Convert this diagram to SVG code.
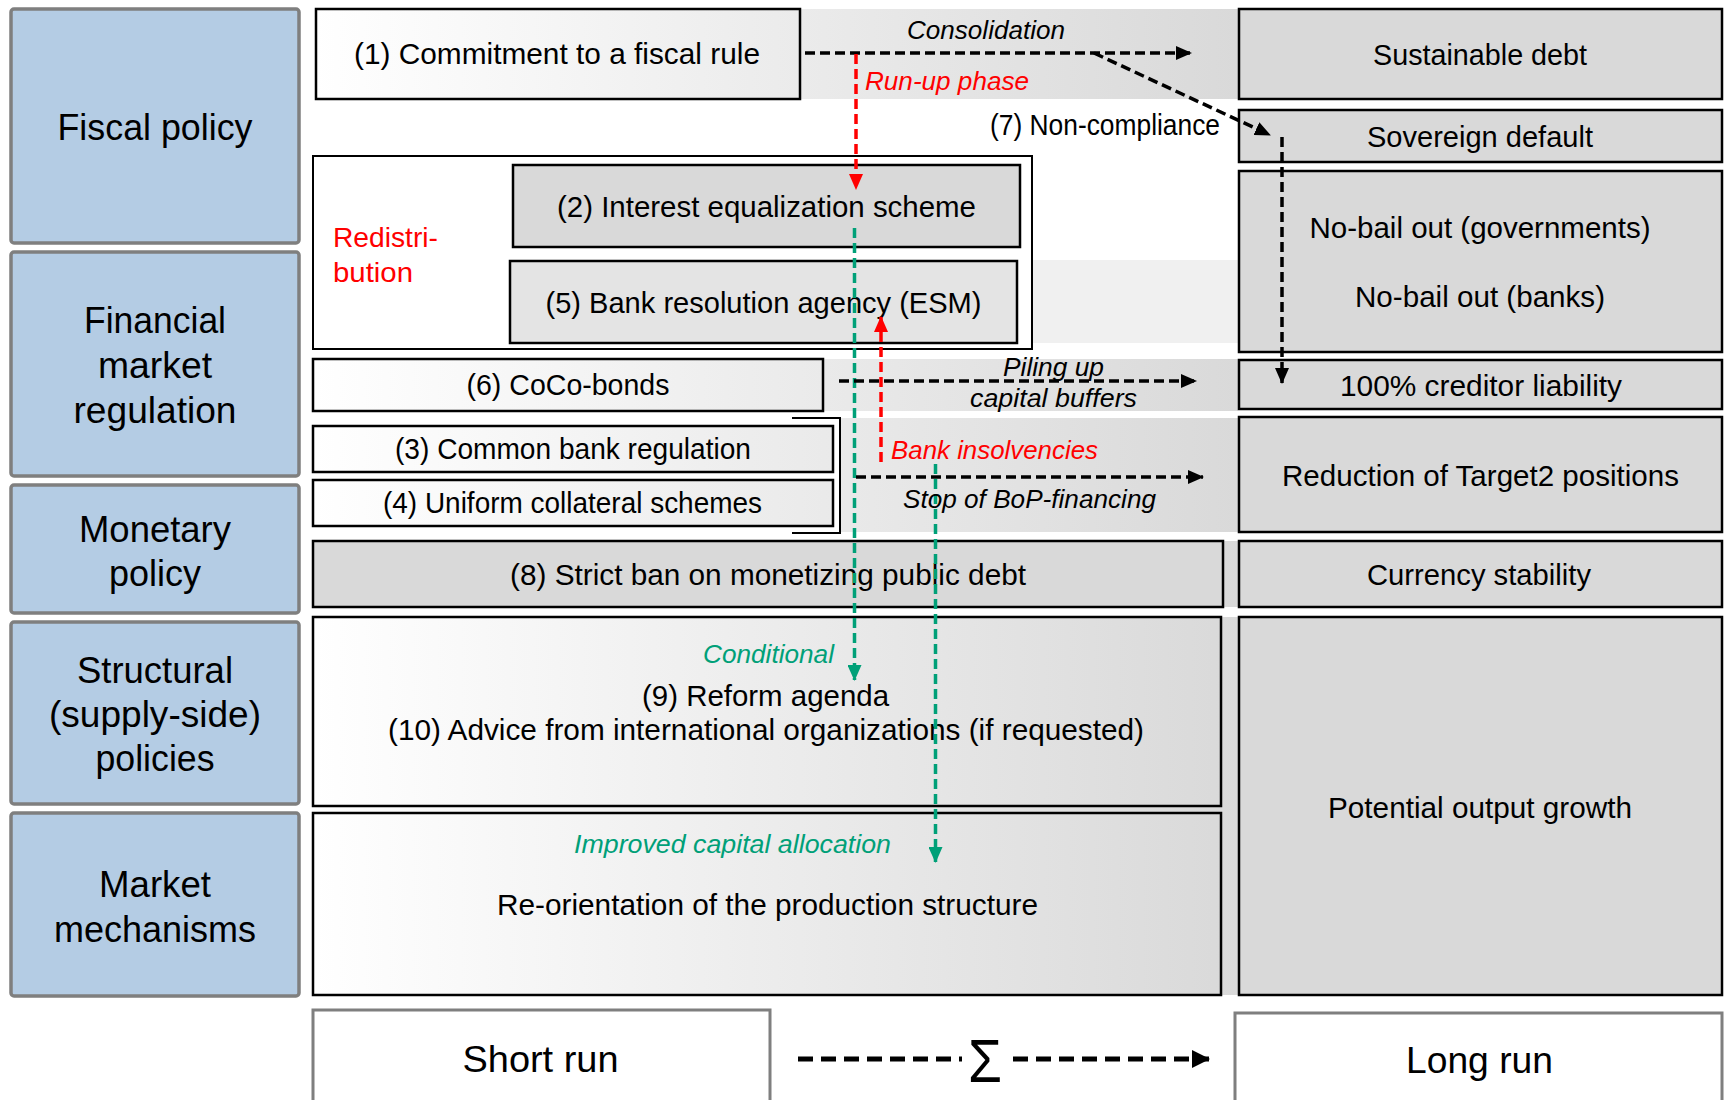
<svg xmlns="http://www.w3.org/2000/svg" width="1725" height="1100" viewBox="0 0 1725 1100">
<defs>
  <linearGradient id="band" gradientUnits="userSpaceOnUse" x1="313" y1="0" x2="1238" y2="0">
    <stop offset="0" stop-color="#ffffff"/>
    <stop offset="1" stop-color="#d9d9d9"/>
  </linearGradient>
  <marker id="ahK" markerUnits="userSpaceOnUse" markerWidth="16" markerHeight="14" refX="15" refY="7" orient="auto">
    <path d="M0,0 L16,7 L0,14 Z" fill="#000000"/>
  </marker>
  <marker id="ahR" markerUnits="userSpaceOnUse" markerWidth="16" markerHeight="14" refX="15" refY="7" orient="auto">
    <path d="M0,0 L16,7 L0,14 Z" fill="#ff0000"/>
  </marker>
  <marker id="ahG" markerUnits="userSpaceOnUse" markerWidth="16" markerHeight="14" refX="15" refY="7" orient="auto">
    <path d="M0,0 L16,7 L0,14 Z" fill="#00a078"/>
  </marker>
  <marker id="ahBig" markerUnits="userSpaceOnUse" markerWidth="18" markerHeight="18" refX="17" refY="9" orient="auto">
    <path d="M0,0 L18,9 L0,18 Z" fill="#000000"/>
  </marker>
</defs>
<style>
  text { font-family: 'Liberation Sans', Arial, sans-serif; fill: #000000; }
  .cat { fill: #b4cce4; stroke: #7f7f7f; stroke-width: 3.5; }
  .catT { font-size: 36px; text-anchor: middle; }
  .box { stroke: #000000; stroke-width: 2.5; }
  .gray { fill: #d9d9d9; }
  .grad { fill: url(#band); }
  .bt { font-size: 29px; text-anchor: middle; }
  .lab { font-size: 26px; font-style: italic; text-anchor: middle; }
  .red { fill: #ff0000; }
  .grn { fill: #00a078; }
  .dk { fill: none; stroke: #000000; stroke-width: 3.5; stroke-dasharray: 10 5; }
  .dr { fill: none; stroke: #ff0000; stroke-width: 3.5; stroke-dasharray: 10 5; }
  .dg { fill: none; stroke: #00a078; stroke-width: 3.5; stroke-dasharray: 10 5; }
  .run { fill: #ffffff; stroke: #7f7f7f; stroke-width: 3; }
  .runT { font-size: 37px; text-anchor: middle; }
</style>

<rect x="0" y="0" width="1725" height="1100" fill="#ffffff"/>

<!-- background row bands -->
<g id="bands">
  <rect x="313" y="9" width="925" height="90" class="grad"/>
  <rect x="1032" y="260" width="206" height="83" fill="#f0f0f0"/>
  <rect x="313" y="359" width="925" height="52" class="grad"/>
  <rect x="840" y="418" width="398" height="114" class="grad"/>
  <rect x="313" y="541" width="925" height="66" class="grad"/>
  <rect x="313" y="617" width="925" height="378" class="grad"/>
</g>

<!-- category column -->
<g id="cat-fiscal">
  <rect x="11" y="9" width="288" height="234" rx="3" class="cat"/>
  <text x="155" y="140" class="catT" textLength="195" lengthAdjust="spacingAndGlyphs">Fiscal policy</text>
</g>
<g id="cat-financial">
  <rect x="11" y="252" width="288" height="224" rx="3" class="cat"/>
  <text x="155" y="333" class="catT" textLength="142" lengthAdjust="spacingAndGlyphs">Financial</text>
  <text x="155" y="378" class="catT" textLength="114" lengthAdjust="spacingAndGlyphs">market</text>
  <text x="155" y="423" class="catT" textLength="163" lengthAdjust="spacingAndGlyphs">regulation</text>
</g>
<g id="cat-monetary">
  <rect x="11" y="485" width="288" height="128" rx="3" class="cat"/>
  <text x="155" y="542" class="catT" textLength="152" lengthAdjust="spacingAndGlyphs">Monetary</text>
  <text x="155" y="586" class="catT" textLength="92" lengthAdjust="spacingAndGlyphs">policy</text>
</g>
<g id="cat-structural">
  <rect x="11" y="622" width="288" height="182" rx="3" class="cat"/>
  <text x="155" y="683" class="catT" textLength="156" lengthAdjust="spacingAndGlyphs">Structural</text>
  <text x="155" y="727" class="catT" textLength="212" lengthAdjust="spacingAndGlyphs">(supply-side)</text>
  <text x="155" y="771" class="catT" textLength="119" lengthAdjust="spacingAndGlyphs">policies</text>
</g>
<g id="cat-market">
  <rect x="11" y="813" width="288" height="183" rx="3" class="cat"/>
  <text x="155" y="897" class="catT" textLength="112" lengthAdjust="spacingAndGlyphs">Market</text>
  <text x="155" y="942" class="catT" textLength="202" lengthAdjust="spacingAndGlyphs">mechanisms</text>
</g>

<!-- short-run column -->
<g id="n1">
  <rect x="316" y="9" width="484" height="90" fill="none" class="box"/>
  <text x="557" y="64" class="bt" textLength="406" lengthAdjust="spacingAndGlyphs">(1) Commitment to a fiscal rule</text>
</g>
<g id="redistribution">
  <rect x="313" y="156" width="719" height="193" fill="#ffffff" stroke="#000000" stroke-width="2"/>
  <text x="333" y="247" font-size="28" class="red" textLength="105" lengthAdjust="spacingAndGlyphs">Redistri-</text>
  <text x="333" y="282" font-size="28" class="red" textLength="80" lengthAdjust="spacingAndGlyphs">bution</text>
</g>
<g id="n2">
  <rect x="513" y="165" width="507" height="82" class="box gray"/>
  <text x="766.5" y="217" class="bt" textLength="419" lengthAdjust="spacingAndGlyphs">(2) Interest equalization scheme</text>
</g>
<g id="n5">
  <rect x="510" y="261" width="507" height="82" class="box" fill="#e4e4e4"/>
  <text x="763.5" y="313" class="bt" textLength="436" lengthAdjust="spacingAndGlyphs">(5) Bank resolution agency (ESM)</text>
</g>
<g id="n6">
  <rect x="313" y="359" width="510" height="52" fill="none" class="box"/>
  <text x="568" y="395" class="bt" textLength="203" lengthAdjust="spacingAndGlyphs">(6) CoCo-bonds</text>
</g>
<g id="n3">
  <rect x="313" y="426" width="520" height="46" class="box grad"/>
  <text x="573" y="459" class="bt" textLength="356" lengthAdjust="spacingAndGlyphs">(3) Common bank regulation</text>
</g>
<g id="n4">
  <rect x="313" y="480" width="520" height="46" class="box grad"/>
  <text x="572.5" y="513" class="bt" textLength="379" lengthAdjust="spacingAndGlyphs">(4) Uniform collateral schemes</text>
</g>
<g id="bracket34">
  <path d="M792,418 H840 V533 H792" fill="none" stroke="#000000" stroke-width="2"/>
</g>
<g id="n8">
  <rect x="313" y="541" width="910" height="66" class="box gray"/>
  <text x="768" y="585" class="bt" textLength="516" lengthAdjust="spacingAndGlyphs">(8) Strict ban on monetizing public debt</text>
</g>
<g id="n9-10">
  <rect x="313" y="617" width="908" height="189" fill="none" class="box"/>
  <text x="765.5" y="706" class="bt" textLength="247" lengthAdjust="spacingAndGlyphs">(9) Reform agenda</text>
  <text x="766" y="740" class="bt" textLength="756" lengthAdjust="spacingAndGlyphs">(10) Advice from international organizations (if requested)</text>
</g>
<g id="n-market">
  <rect x="313" y="813" width="908" height="182" fill="none" class="box"/>
  <text x="767.5" y="915" class="bt" textLength="541" lengthAdjust="spacingAndGlyphs">Re-orientation of the production structure</text>
</g>

<!-- long-run column -->
<g id="r-sustainable">
  <rect x="1239" y="9" width="483" height="90" class="box gray"/>
  <text x="1480" y="65" class="bt" textLength="214" lengthAdjust="spacingAndGlyphs">Sustainable debt</text>
</g>
<g id="r-default">
  <rect x="1239" y="110" width="483" height="52" class="box gray"/>
  <text x="1480" y="147" class="bt" textLength="226" lengthAdjust="spacingAndGlyphs">Sovereign default</text>
</g>
<g id="r-nobailout">
  <rect x="1239" y="171" width="483" height="181" class="box gray"/>
  <text x="1480" y="238" class="bt" textLength="341" lengthAdjust="spacingAndGlyphs">No-bail out (governments)</text>
  <text x="1480" y="307" class="bt" textLength="250" lengthAdjust="spacingAndGlyphs">No-bail out (banks)</text>
</g>
<g id="r-creditor">
  <rect x="1239" y="360" width="483" height="49" class="box gray"/>
  <text x="1481" y="396" class="bt" textLength="282" lengthAdjust="spacingAndGlyphs">100% creditor liability</text>
</g>
<g id="r-target2">
  <rect x="1239" y="417" width="483" height="115" class="box gray"/>
  <text x="1480.5" y="486" class="bt" textLength="397" lengthAdjust="spacingAndGlyphs">Reduction of Target2 positions</text>
</g>
<g id="r-currency">
  <rect x="1239" y="541" width="483" height="66" class="box gray"/>
  <text x="1479" y="585" class="bt" textLength="224" lengthAdjust="spacingAndGlyphs">Currency stability</text>
</g>
<g id="r-potential">
  <rect x="1239" y="617" width="483" height="378" class="box gray"/>
  <text x="1480" y="818" class="bt" textLength="304" lengthAdjust="spacingAndGlyphs">Potential output growth</text>
</g>

<!-- bottom time axis -->
<g id="short-run">
  <rect x="313" y="1010" width="457" height="110" class="run"/>
  <text x="540.5" y="1072" class="runT" textLength="156" lengthAdjust="spacingAndGlyphs">Short run</text>
</g>
<g id="long-run">
  <rect x="1235" y="1013" width="487" height="110" class="run"/>
  <text x="1479.5" y="1073" class="runT" textLength="147" lengthAdjust="spacingAndGlyphs">Long run</text>
</g>

<!-- connectors -->
<g id="connectors">
  <path d="M805,53 H1191" class="dk" marker-end="url(#ahK)"/>
  <path d="M1094,53 L1270,135" class="dk" marker-end="url(#ahK)"/>
  <path d="M1282,137 V383" class="dk" marker-end="url(#ahK)"/>
  <path d="M856,54 V189" class="dr" marker-end="url(#ahR)"/>
  <path d="M854.5,228 V680" class="dg" marker-end="url(#ahG)"/>
  <path d="M881,462 V317" class="dr" marker-end="url(#ahR)"/>
  <path d="M935.5,464 V862" class="dg" marker-end="url(#ahG)"/>
  <path d="M839,381 H1196" class="dk" marker-end="url(#ahK)"/>
  <path d="M856,477 H1203" class="dk" marker-end="url(#ahK)"/>
  <path d="M798,1059 H962" fill="none" stroke="#000000" stroke-width="5" stroke-dasharray="15 8"/>
  <path d="M1013,1059 H1209" fill="none" stroke="#000000" stroke-width="5" stroke-dasharray="15 8" marker-end="url(#ahBig)"/>
  <text x="985" y="1082" font-family="'Liberation Serif', 'DejaVu Serif', serif" font-size="62" text-anchor="middle" textLength="34" lengthAdjust="spacingAndGlyphs">Σ</text>

  <text x="986" y="39" class="lab" textLength="158" lengthAdjust="spacingAndGlyphs">Consolidation</text>
  <text x="947" y="90" class="lab red" textLength="164" lengthAdjust="spacingAndGlyphs">Run-up phase</text>
  <text x="1105" y="135" class="bt" font-size="27" textLength="230" lengthAdjust="spacingAndGlyphs">(7) Non-compliance</text>
  <text x="1053.5" y="376" class="lab" textLength="101" lengthAdjust="spacingAndGlyphs">Piling up</text>
  <text x="1053.5" y="407" class="lab" textLength="167" lengthAdjust="spacingAndGlyphs">capital buffers</text>
  <text x="994.5" y="459" class="lab red" textLength="207" lengthAdjust="spacingAndGlyphs">Bank insolvencies</text>
  <text x="1029.5" y="508" class="lab" textLength="253" lengthAdjust="spacingAndGlyphs">Stop of BoP-financing</text>
  <text x="768.5" y="663" class="lab grn" textLength="131" lengthAdjust="spacingAndGlyphs">Conditional</text>
  <text x="732.5" y="853" class="lab grn" textLength="317" lengthAdjust="spacingAndGlyphs">Improved capital allocation</text>
</g>
</svg>
